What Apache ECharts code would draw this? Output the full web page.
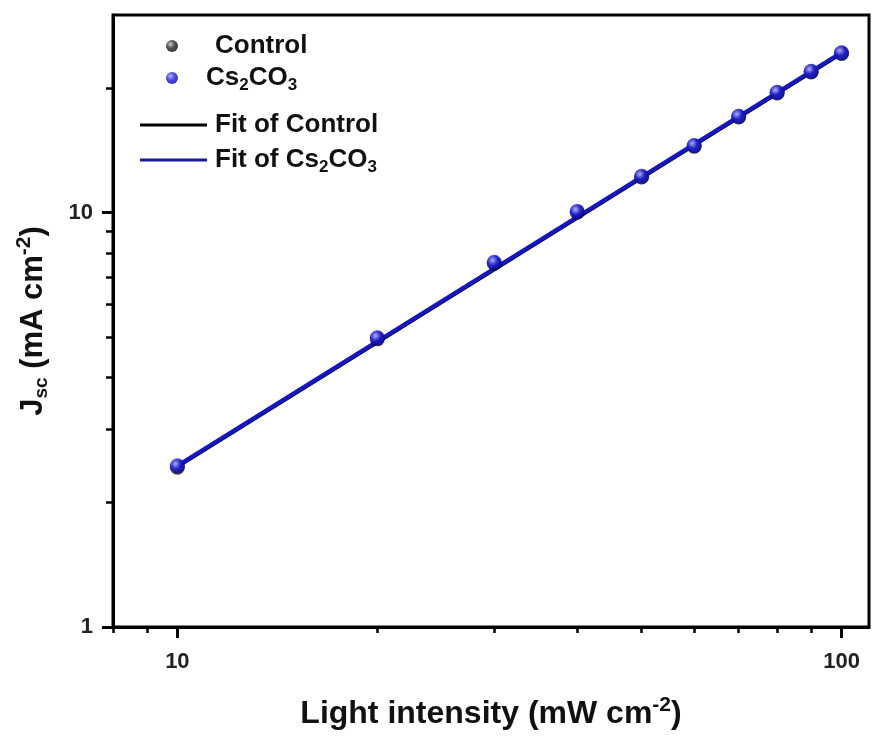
<!DOCTYPE html>
<html>
<head>
<meta charset="utf-8">
<script src="https://cdn.jsdelivr.net/npm/echarts@6/dist/echarts.min.js"></script>
<style>html,body{margin:0;padding:0;background:#fff}#c{width:873px;height:740px}</style>
</head>
<body>
<div id="c"></div>
<script>
// Data
var lightIntensity = [10, 20, 30, 40, 50, 60, 70, 80, 90, 100];
var controlJsc = [2.43, 4.96, 7.55, 10.02, 12.19, 14.46, 17.02, 19.46, 21.86, 24.22];
var cs2co3Jsc = [2.45, 4.99, 7.59, 10.07, 12.24, 14.52, 17.09, 19.53, 21.94, 24.31];
var fitX = [10, 100];
var fitControl = [2.44, 24.25];
var fitCs2co3 = [2.45, 24.35];
var xMajorTicks = [10, 100];
var xMinorTicks = [8, 9, 20, 30, 40, 50, 60, 70, 80, 90];
var yMajorTicks = [1, 10];
var yMinorTicks = [2, 3, 4, 5, 6, 7, 8, 9, 20];

function pairs(xs, ys) { return xs.map(function (x, i) { return [x, ys[i]]; }); }

var FONT = 'Liberation Sans';
function sphere(light, mid, dark) {
  return { type: 'radial', x: 0.38, y: 0.35, r: 0.75,
    colorStops: [{ offset: 0, color: light }, { offset: 0.45, color: mid }, { offset: 1, color: dark }] };
}
var LF = 26;
var rich = {
  b: { fontFamily: FONT, fontWeight: 'bold', fontSize: LF, color: '#111' },
  f: { fontFamily: FONT, fontWeight: 'bold', fontSize: LF, color: '#111', padding: [0, 0, 0, 3] },
  s: { fontFamily: FONT, fontWeight: 'bold', fontSize: 17, color: '#111', padding: [14, 0, 0, 0] },
  c: { fontFamily: FONT, fontWeight: 'bold', fontSize: LF, color: '#111', padding: [0, 0, 0, 32] },
  cs: { fontFamily: FONT, fontWeight: 'bold', fontSize: LF, color: '#111', padding: [0, 0, 0, 23] }
};
function legendFmt(name) {
  if (name === 'Control') return '{c|Control}';
  if (name === 'Cs2CO3') return '{cs|Cs}{s|2}{b|CO}{s|3}';
  if (name === 'Fit of Control') return '{f|Fit of Control}';
  return '{f|Fit of Cs}{s|2}{b|CO}{s|3}';
}
var axisLabelStyle = { fontFamily: FONT, fontWeight: 'bold', fontSize: 22, color: '#222' };

var chart = echarts.init(document.getElementById('c'), null, { renderer: 'canvas' });
chart.setOption({
  animation: false,
  backgroundColor: '#fff',
  grid: { left: 113, right: 4, top: 15, bottom: 113, show: true, borderColor: '#000', borderWidth: 3, backgroundColor: 'transparent' },
  legend: [{
    data: [{ name: 'Control', icon: 'circle' }, { name: 'Cs2CO3', icon: 'circle' }],
    orient: 'vertical', left: 161, top: 28,
    itemWidth: 12, itemHeight: 12, itemGap: 6, formatter: legendFmt,
    textStyle: { rich: rich }
  }, {
    data: [{ name: 'Fit of Control', icon: 'rect' }, { name: 'Fit of Cs2CO3', icon: 'rect' }],
    orient: 'vertical', left: 135, top: 107,
    itemWidth: 67, itemHeight: 3, itemGap: 9, formatter: legendFmt,
    textStyle: { rich: rich }
  }],
  xAxis: [{
    type: 'log', logBase: 10, min: 8, max: 110,
    name: '{n|Light intensity (mW cm}{np|-2}{n|)}',
    nameLocation: 'middle', nameGap: 68,
    nameTextStyle: { rich: {
      n: { fontFamily: FONT, fontWeight: 'bold', fontSize: 32, color: '#111' },
      np: { fontFamily: FONT, fontWeight: 'bold', fontSize: 21, color: '#111', padding: [0, 0, 18, 0] }
    } },
    axisLine: { show: true, lineStyle: { color: '#000', width: 3 } },
    axisTick: { show: true, customValues: xMajorTicks, length: 11, lineStyle: { color: '#000', width: 3 } },
    axisLabel: Object.assign({ customValues: xMajorTicks, margin: 24, formatter: function (v) { return String(Math.round(v)); } }, axisLabelStyle),
    splitLine: { show: false }, minorTick: { show: false }
  }, {
    type: 'log', logBase: 10, min: 8, max: 110, position: 'bottom',
    axisLine: { show: false },
    axisTick: { show: true, customValues: xMinorTicks, length: 6, lineStyle: { color: '#000', width: 2.5 } },
    axisLabel: { show: false }, splitLine: { show: false }
  }],
  yAxis: [{
    type: 'log', logBase: 10, min: 1, max: 30,
    name: '{n|J}{ns|sc}{n| (mA cm}{np|-2}{n|)}',
    nameLocation: 'middle', nameGap: 60, nameRotate: 90,
    nameTextStyle: { rich: {
      n: { fontFamily: FONT, fontWeight: 'bold', fontSize: 31, color: '#111' },
      ns: { fontFamily: FONT, fontWeight: 'bold', fontSize: 19, color: '#111', padding: [16, 0, 0, 0] },
      np: { fontFamily: FONT, fontWeight: 'bold', fontSize: 21, color: '#111', padding: [0, 0, 18, 0] }
    } },
    axisLine: { show: true, lineStyle: { color: '#000', width: 3 } },
    axisTick: { show: true, customValues: yMajorTicks, length: 11, lineStyle: { color: '#000', width: 3 } },
    axisLabel: Object.assign({ customValues: yMajorTicks, margin: 20, formatter: function (v) { return String(Math.round(v)); } }, axisLabelStyle),
    splitLine: { show: false }, minorTick: { show: false }
  }, {
    type: 'log', logBase: 10, min: 1, max: 30, position: 'left',
    axisLine: { show: false },
    axisTick: { show: true, customValues: yMinorTicks, length: 7, lineStyle: { color: '#000', width: 2.5 } },
    axisLabel: { show: false }, splitLine: { show: false }
  }],
  series: [{
    name: 'Control', type: 'scatter', z: 4, symbolSize: 15,
    data: pairs(lightIntensity, controlJsc),
    itemStyle: { color: sphere('#bdbdbd', '#262626', '#000') }
  }, {
    name: 'Cs2CO3', type: 'scatter', z: 5, symbolSize: 15,
    data: pairs(lightIntensity, cs2co3Jsc),
    itemStyle: { color: sphere('#a8a8ff', '#1c1ce6', '#00009a') }
  }, {
    name: 'Fit of Control', type: 'line', z: 2, symbol: 'none',
    data: pairs(fitX, fitControl),
    lineStyle: { color: '#000', width: 4 }, itemStyle: { color: '#000' }
  }, {
    name: 'Fit of Cs2CO3', type: 'line', z: 3, symbol: 'none',
    data: pairs(fitX, fitCs2co3),
    lineStyle: { color: '#1616c0', width: 4 }, itemStyle: { color: '#1a1a9e' }
  }]
});
</script>
</body>
</html>
